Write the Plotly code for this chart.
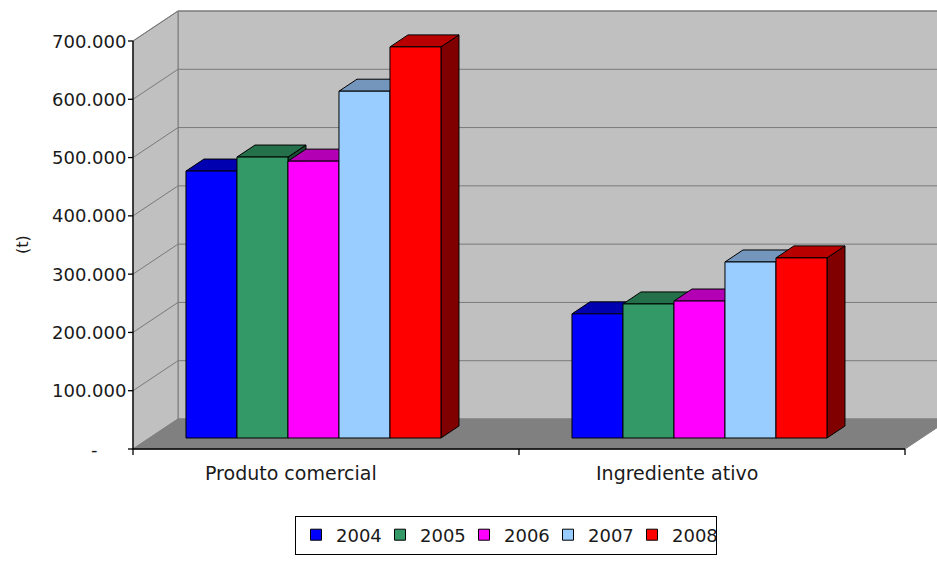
import plotly.graph_objects as go

# ---- data -------------------------------------------------------------
categories = ["Produto comercial", "Ingrediente ativo"]
years = ["2004", "2005", "2006", "2007", "2008"]
produto_comercial = [458000, 482000, 475000, 595000, 671000]
ingrediente_ativo = [213000, 230000, 235000, 302000, 309000]
y_tick_values = [0, 100000, 200000, 300000, 400000, 500000, 600000, 700000]
y_tick_labels = ["-\u00a0\u00a0\u00a0\u00a0\u00a0", "100.000", "200.000", "300.000",
                 "400.000", "500.000", "600.000", "700.000"]
y_title = "(t)"

# ---- styling ----------------------------------------------------------
front_colors = ["#0000FF", "#339966", "#FF00FF", "#99CCFF", "#FF0000"]
top_colors = ["#0000B0", "#23704A", "#B400B4", "#7496BC", "#B80000"]
side_colors = ["#000080", "#1A4D33", "#800080", "#4D6680", "#800000"]
WALL = "#C0C0C0"
FLOOR = "#808080"
GRID = "#7A7A7A"
FONT = "DejaVu Sans"
TEXT = "#1a1a1a"

# ---- oblique 3-D projection in data units -----------------------------
W, H = 937, 561
PX_PER_CAT = 386.0              # one category slot on the front plane
V_PER_PX = 700000 / 408.0       # value units per pixel
LEFT_PX, BASE_PX = 133, 449     # front origin of the plot box
DEPTH_DX = 45 / PX_PER_CAT      # full depth shift to the right
DEPTH_DV = 30 * V_PER_PX        # full depth shift upwards
Y_MAX = y_tick_values[-1]
N_CAT = len(categories)

BAR_D0, BAR_D1 = 11 / 30, 23 / 30   # bar front / back depth
BAR_W = 51 / PX_PER_CAT
GROUP_OFFSET = 0.0945


def proj(x, v, d):
    return x + d * DEPTH_DX, v + d * DEPTH_DV


fig = go.Figure()


def face(points, fill, line="black", width=1):
    xs, ys = [], []
    for x, v, d in points:
        px, py = proj(x, v, d)
        xs.append(px)
        ys.append(py)
    xs.append(xs[0])
    ys.append(ys[0])
    fig.add_trace(go.Scatter(x=xs, y=ys, mode="lines", fill="toself",
                             fillcolor=fill, line=dict(color=line, width=width),
                             hoverinfo="skip", showlegend=False))


def polyline(points, color, width=1):
    xs, ys = [], []
    for p in points:
        if p is None:
            xs.append(None)
            ys.append(None)
        else:
            px, py = proj(*p)
            xs.append(px)
            ys.append(py)
    fig.add_trace(go.Scatter(x=xs, y=ys, mode="lines",
                             line=dict(color=color, width=width),
                             hoverinfo="skip", showlegend=False))


# walls and floor
face([(0, 0, 1), (N_CAT, 0, 1), (N_CAT, Y_MAX, 1), (0, Y_MAX, 1)], WALL, GRID)
face([(0, 0, 0), (0, 0, 1), (0, Y_MAX, 1), (0, Y_MAX, 0)], WALL, GRID)
face([(0, 0, 0), (N_CAT, 0, 0), (N_CAT, 0, 1), (0, 0, 1)], FLOOR, FLOOR)

# gridlines on side and back walls
grid_pts = []
for v in y_tick_values[1:]:
    grid_pts += [(0, v, 0), (0, v, 1), (N_CAT, v, 1), None]
polyline(grid_pts, GRID, 1)

# bars, drawn left to right so each bar hides the previous one's side
series = [list(pair) for pair in zip(produto_comercial, ingrediente_ativo)]
for ci in range(N_CAT):
    for si, vals in enumerate(series):
        v = vals[ci]
        xl = ci + GROUP_OFFSET + si * BAR_W
        xr = xl + BAR_W
        face([(xr, 0, BAR_D0), (xr, 0, BAR_D1), (xr, v, BAR_D1), (xr, v, BAR_D0)],
             side_colors[si])
        face([(xl, v, BAR_D0), (xr, v, BAR_D0), (xr, v, BAR_D1), (xl, v, BAR_D1)],
             top_colors[si])
        face([(xl, 0, BAR_D0), (xr, 0, BAR_D0), (xr, v, BAR_D0), (xl, v, BAR_D0)],
             front_colors[si])

# front axes with tick marks
tick_dx = 5 / PX_PER_CAT
tick_dv = 6 * V_PER_PX
axis_pts = [(0, Y_MAX, 0), (0, 0, 0), (N_CAT, 0, 0), None]
for v in y_tick_values:
    axis_pts += [(-tick_dx, v, 0), (0, v, 0), None]
for c in range(N_CAT + 1):
    axis_pts += [(c, 0, 0), (c, -tick_dv, 0), None]
polyline(axis_pts, "black", 1.3)

# legend entries
for si, name in enumerate(years):
    fig.add_trace(go.Scatter(x=[None], y=[None], mode="markers", name=name,
                             marker=dict(symbol="square", size=11,
                                         color=front_colors[si],
                                         line=dict(color="black", width=1))))

annotations = []
for v, lab in zip(y_tick_values, y_tick_labels):
    annotations.append(dict(x=0, y=v, xref="x", yref="y", text=lab,
                            showarrow=False, xanchor="right", yanchor="middle",
                            xshift=-5, font=dict(family=FONT, size=18, color=TEXT)))
for ci, name in enumerate(categories):
    cx = ci + GROUP_OFFSET + len(years) * BAR_W / 2
    annotations.append(dict(x=cx, y=-24 * V_PER_PX, xref="x", yref="y", text=name,
                            showarrow=False, xanchor="center", yanchor="middle",
                            xshift=-6, font=dict(family=FONT, size=19, color=TEXT)))
annotations.append(dict(x=22 / W, y=1 - 245 / H, xref="paper", yref="paper",
                        text=y_title, textangle=-90, showarrow=False,
                        xanchor="center", yanchor="middle",
                        font=dict(family=FONT, size=16, color=TEXT)))

fig.update_layout(
    width=W, height=H,
    margin=dict(l=0, r=0, t=0, b=0),
    paper_bgcolor="white", plot_bgcolor="white",
    xaxis=dict(range=[-LEFT_PX / PX_PER_CAT, (W - LEFT_PX) / PX_PER_CAT],
               visible=False, fixedrange=True),
    yaxis=dict(range=[-(H - BASE_PX) * V_PER_PX, BASE_PX * V_PER_PX],
               visible=False, fixedrange=True),
    showlegend=True,
    legend=dict(orientation="h", x=506 / W, xanchor="center",
                y=1 - 535 / H, yanchor="middle",
                bordercolor="black", borderwidth=1, bgcolor="white",
                entrywidth=39, entrywidthmode="pixels",
                font=dict(family=FONT, size=18, color=TEXT),
                itemclick=False, itemdoubleclick=False),
    annotations=annotations,
)

fig.write_html("out.html")
